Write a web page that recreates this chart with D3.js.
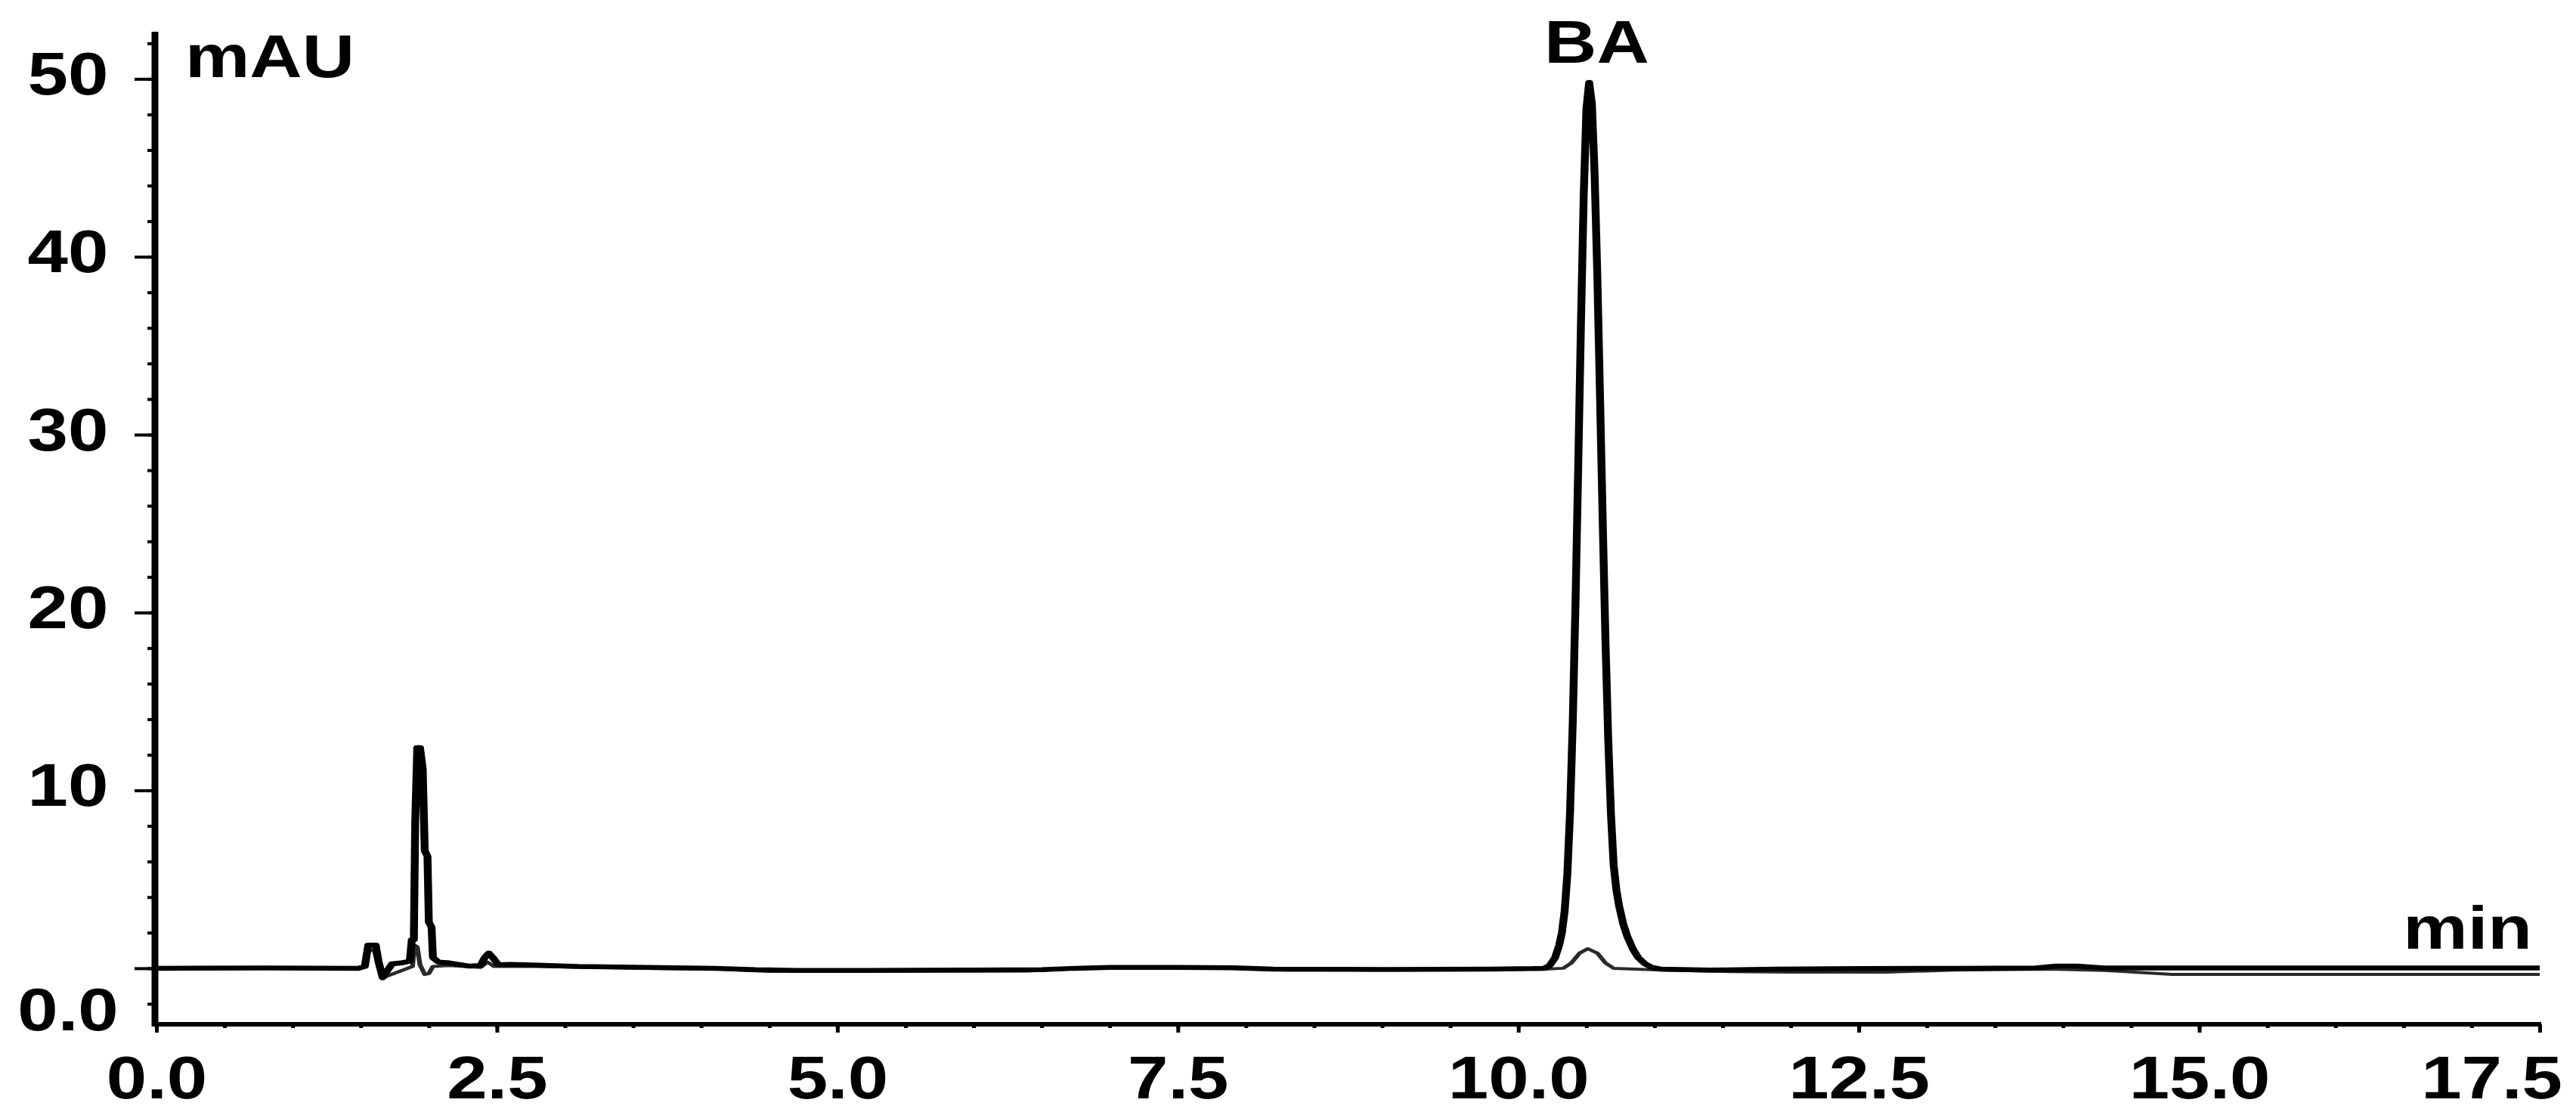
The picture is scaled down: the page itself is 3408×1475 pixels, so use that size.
<!DOCTYPE html>
<html>
<head>
<meta charset="utf-8">
<script src="https://cdn.jsdelivr.net/npm/d3@7"></script>
<style>
  html, body { margin: 0; padding: 0; background: #fff; }
  text { font-family: "Liberation Sans", Arial, sans-serif; font-weight: bold; fill: #000; }
</style>
</head>
<body>
<div id="chart"></div>
<script>
// retention time (min), absorbance (mAU)
const sampleTrace = [
  [0, 0], [0.8, 0.02], [1.48, 0], [1.53, 0.1], [1.555, 1.3], [1.61, 1.3], [1.63, 0.4],
  [1.66, -0.5], [1.69, -0.2], [1.73, 0.25], [1.80, 0.3], [1.86, 0.4], [1.875, 1.6],
  [1.89, 1.6], [1.90, 8.2], [1.915, 12.4], [1.935, 12.4], [1.955, 11.2], [1.97, 6.6],
  [1.99, 6.3], [2.0, 2.6], [2.02, 2.3], [2.03, 0.6], [2.07, 0.35], [2.15, 0.3],
  [2.3, 0.12], [2.38, 0.15], [2.41, 0.6], [2.44, 0.85], [2.47, 0.6], [2.51, 0.2],
  [2.6, 0.22], [2.8, 0.18], [3.1, 0.1], [3.6, 0.05], [4.1, 0], [4.4, -0.08], [4.7, -0.12],
  [5.2, -0.12], [6.0, -0.1], [6.5, -0.08], [6.75, 0], [7.0, 0.05], [7.5, 0.05], [7.9, 0.03],
  [8.2, -0.05], [9.0, -0.07], [9.8, -0.05], [10.1, -0.02], [10.19, 0], [10.23, 0.15],
  [10.27, 0.6], [10.30, 1.3], [10.32, 2.0], [10.34, 3.2], [10.36, 5.3], [10.38, 8.8],
  [10.40, 13.9], [10.42, 20.6], [10.44, 28.3], [10.46, 36.3], [10.48, 43.4], [10.50, 48.3],
  [10.52, 49.8], [10.54, 48.6], [10.56, 44.7], [10.58, 39.0], [10.60, 32.1], [10.62, 25.0],
  [10.64, 18.4], [10.66, 12.9], [10.68, 8.7], [10.70, 5.8], [10.72, 4.4], [10.74, 3.5],
  [10.77, 2.5], [10.80, 1.8], [10.84, 1.1], [10.88, 0.6], [10.93, 0.25], [10.98, 0.05],
  [11.05, -0.05], [11.4, -0.1], [11.9, -0.05], [12.5, -0.02], [13.2, 0], [13.8, 0.02],
  [13.95, 0.12], [14.1, 0.12], [14.3, 0.02], [15.0, 0.02], [16.0, 0.02], [17.0, 0.02],
  [17.5, 0.02]
];

const blankTrace = [
  [0, 0], [1.48, 0], [1.53, 0.1], [1.56, 1.0], [1.60, 1.0], [1.63, 0.1], [1.66, -0.6],
  [1.69, -0.45], [1.88, 0.1], [1.895, 1.3], [1.915, 1.2], [1.935, 0.2], [1.97, -0.35],
  [2.0, -0.3], [2.03, 0.1], [2.15, 0.15], [2.38, 0.05], [2.43, 0.35], [2.48, 0.1],
  [2.8, 0.1], [3.6, 0], [4.1, -0.05], [4.5, -0.18], [6.4, -0.15], [6.8, 0], [7.9, 0],
  [8.3, -0.1], [10.2, -0.05], [10.33, 0], [10.39, 0.3], [10.45, 0.85], [10.51, 1.1],
  [10.58, 0.85], [10.64, 0.3], [10.70, 0], [11.05, -0.1], [11.5, -0.18], [12.0, -0.22],
  [12.7, -0.22], [13.2, -0.1], [13.9, -0.05], [14.3, -0.12], [14.8, -0.35], [17.5, -0.35]
];

const xMajorTicks = [0, 2.5, 5, 7.5, 10, 12.5, 15, 17.5];
const yMajorTicks = [0, 10, 20, 30, 40, 50];
const yLabelText = ["0.0", "10", "20", "30", "40", "50"];
const yLabelAt = [-2.6, 10, 20, 30, 40, 50];
const peakLabel = { text: "BA", time: 10.52 };

const width = 3408, height = 1475;
const margin = { top: 42, right: 48, bottom: 120, left: 207 };
const fontSize = 80, stretch = 1.2;   // text in the picture is widened

const x = d3.scaleLinear().domain([0, 17.5]).range([margin.left, width - margin.right]);
const y = d3.scaleLinear().domain([-3.15, 52.65]).range([height - margin.bottom, margin.top]);
const axisX = margin.left - 2;

const svg = d3.select("#chart").append("svg")
    .attr("width", width)
    .attr("height", height);

svg.append("rect").attr("width", width).attr("height", height).attr("fill", "#fff");

function label(px, py, str, anchor) {
    const g = svg.append("g").attr("transform", `translate(${px},${py})`);
    g.append("text")
        .attr("transform", `scale(${stretch},1)`)
        .attr("text-anchor", anchor)
        .attr("font-size", fontSize)
        .text(str);
    return g;
}

// x axis ticks
const xg = svg.append("g").attr("transform", `translate(0,${y.range()[0]})`);
xg.append("g")
    .call(d3.axisBottom(x).tickValues(d3.range(0, 17.51, 0.5)).tickSize(5).tickFormat(""))
    .call(g => g.select(".domain").remove());
xg.append("g")
    .call(d3.axisBottom(x).tickValues(xMajorTicks).tickSize(11).tickPadding(30).tickFormat(d3.format(".1f")))
    .call(g => g.select(".domain").remove());
xg.selectAll(".tick line").attr("stroke", "#000").attr("stroke-width", 5);
xg.selectAll(".tick text")
    .attr("font-size", fontSize)
    .attr("font-family", null)
    .attr("transform", `scale(${stretch},1)`);

// keep the last label inside the picture
xg.selectAll(".tick text").each(function() {
    const t = d3.select(this);
    const tick = d3.select(this.parentNode);
    const tx = +tick.attr("transform").match(/translate\(([-\d.]+)/)[1];
    const w = this.getBBox().width * stretch;
    const over = tx + w / 2 - (width - 18);
    if (over > 0) t.attr("x", -over / stretch);
});

// y axis ticks
const yg = svg.append("g").attr("transform", `translate(${axisX},0)`);
yg.append("g")
    .call(d3.axisLeft(y).tickValues(d3.range(-2, 52.1, 2)).tickSize(10).tickFormat(""))
    .call(g => g.select(".domain").remove());
yg.append("g")
    .call(d3.axisLeft(y).tickValues(yMajorTicks).tickSize(27).tickFormat(""))
    .call(g => g.select(".domain").remove());
yg.selectAll(".tick line").attr("stroke", "#000").attr("stroke-width", 4);

// axis lines
svg.append("line")
    .attr("x1", axisX).attr("x2", axisX)
    .attr("y1", y.range()[1]).attr("y2", y.range()[0] + 3)
    .attr("stroke", "#000").attr("stroke-width", 9);
svg.append("line")
    .attr("x1", axisX - 4).attr("x2", x.range()[1] + 2)
    .attr("y1", y.range()[0]).attr("y2", y.range()[0])
    .attr("stroke", "#000").attr("stroke-width", 6);

// y labels
yLabelAt.forEach((v, i) => {
    label(90, y(v) - 8, yLabelText[i], "middle").select("text").attr("dy", "0.36em");
});

// traces: strokes drawn in a horizontally widened space, like the scanned plot
const k = 1.6;
const xs = d3.scaleLinear().domain(x.domain()).range(x.range().map(d => d / k));
const line = d3.line().x(d => xs(d[0])).y(d => y(d[1]));
const plot = svg.append("g").attr("transform", `scale(${k},1)`);

plot.append("path")
    .datum(blankTrace)
    .attr("d", line)
    .attr("fill", "none")
    .attr("stroke", "#2a2a2a")
    .attr("stroke-width", 4)
    .attr("stroke-linejoin", "round");

plot.append("path")
    .datum(sampleTrace)
    .attr("d", line)
    .attr("fill", "none")
    .attr("stroke", "#000")
    .attr("stroke-width", 6.5)
    .attr("stroke-linejoin", "round");

// titles
label(245, 102, "mAU", "start");
label(3350, 1255, "min", "end");
label(x(peakLabel.time) + 10, 83, peakLabel.text, "middle");
</script>
</body>
</html>
